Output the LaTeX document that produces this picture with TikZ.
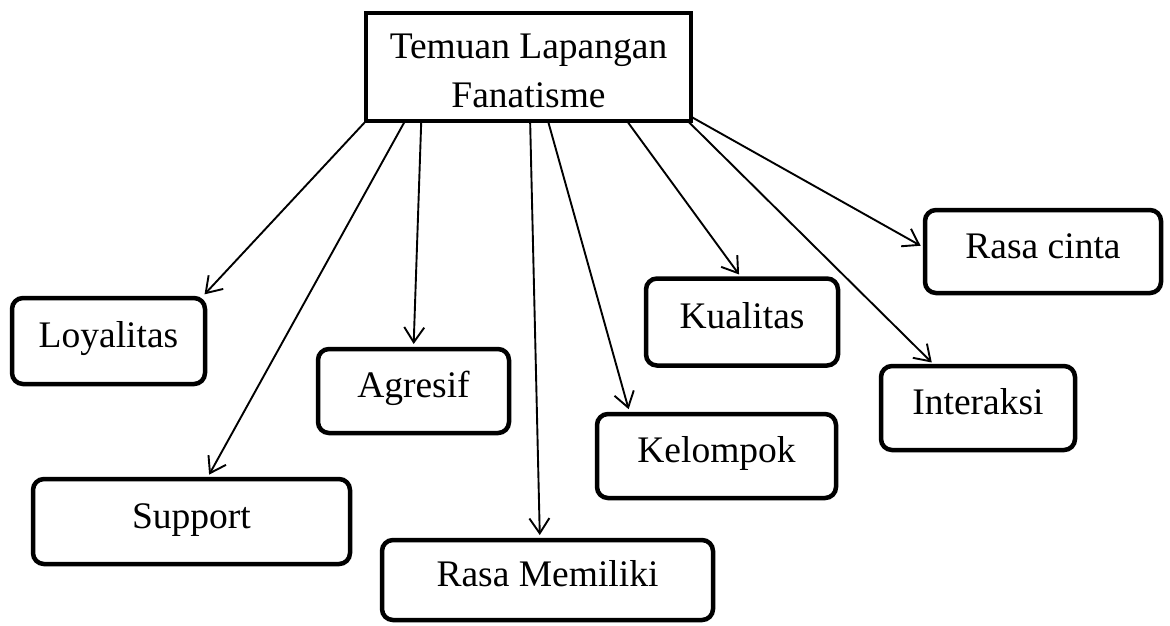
\documentclass[tikz,border=0pt]{standalone}
\usepackage{fontspec}
\setmainfont{Liberation Serif}
\usetikzlibrary{arrows.meta,calc}
\begin{document}
\begin{tikzpicture}[x=1pt,y=-1pt,
  box/.style={draw,line width=4.5pt,rounded corners=11pt,inner sep=0pt,outer sep=0pt,
    font=\fontsize{37.5}{49}\selectfont,text height=25pt,text depth=12pt},
  topbox/.style={draw,line width=4.5pt,miter limit=10,inner sep=0pt,outer sep=0pt,
    font=\fontsize{37.5}{49}\selectfont,align=center},
  conn/.style={line width=1.9pt,-{Straight Barb[length=15pt,width=20pt]},shorten >=5pt}]
\useasboundingbox (0,0) rectangle (1170,625);

\node[topbox,minimum width=325pt,minimum height=108pt] (top) at (528.5,67) {\rule{0pt}{32pt}Temuan Lapangan\\Fanatisme};

\node[box,minimum width=193pt,minimum height=86pt] (loy) at (108.5,341) {Loyalitas};
\node[box,minimum width=317pt,minimum height=85pt] (sup) at (191.5,521.5) {Support};
\node[box,minimum width=191pt,minimum height=84pt] (agr) at (413.5,391) {Agresif};
\node[box,minimum width=331pt,minimum height=80pt] (rm) at (547.5,580) {Rasa Memiliki};
\node[box,minimum width=239pt,minimum height=84pt] (kel) at (716.5,456) {Kelompok};
\node[box,minimum width=192pt,minimum height=87pt] (kua) at (742,322) {Kualitas};
\node[box,minimum width=194pt,minimum height=84pt] (int) at (978,408) {Interaksi};
\node[box,minimum width=236pt,minimum height=83pt] (rc) at (1043,251.5) {Rasa cinta};

\draw[conn] (top.south west) -- ($(loy.north west)!0.98!(loy.north east)$);
\draw[conn] ($(top.south west)!0.12!(top.south east)$) -- ($(sup.north west)!0.548!(sup.north east)$);
\draw[conn] ($(top.south west)!0.17!(top.south east)$) -- ($(agr.north west)!0.5!(agr.north east)$);
\draw[conn] ($(top.south west)!0.505!(top.south east)$) -- ($(rm.north west)!0.477!(rm.north east)$);
\draw[conn] ($(top.south west)!0.56!(top.south east)$) -- ($(kel.north west)!0.138!(kel.north east)$);
\draw[conn] ($(top.south west)!0.803!(top.south east)$) -- ($(kua.north west)!0.5!(kua.north east)$);
\draw[conn] ($(top.south west)!0.99!(top.south east)$) -- ($(int.north west)!0.28!(int.north east)$);
\draw[conn] ($(top.south east)!0.04!(top.north east)$) -- ($(rc.north west)!0.46!(rc.south west)$);
\end{tikzpicture}
\end{document}
